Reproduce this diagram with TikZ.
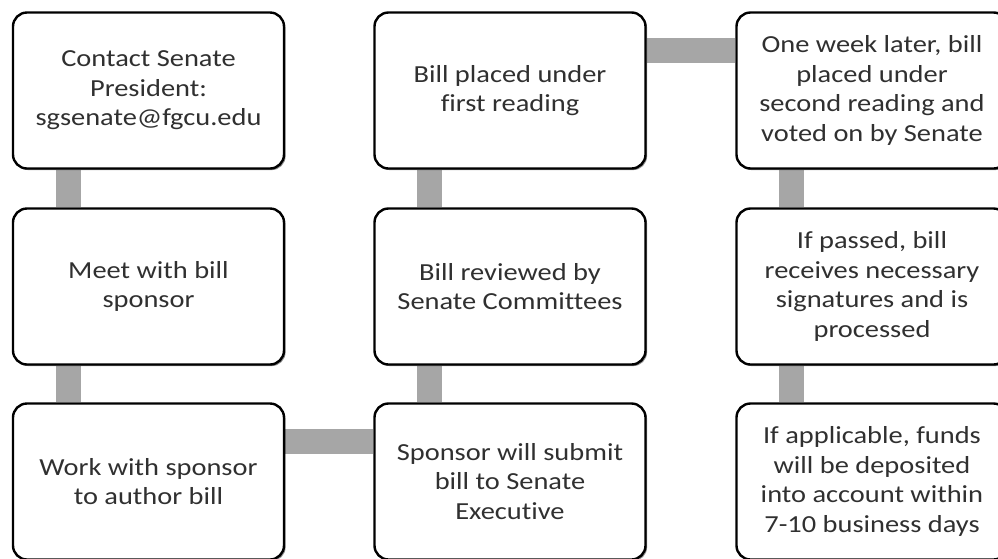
\documentclass[tikz,border=0pt]{standalone}
\usepackage{fontspec}
\setmainfont{Carlito}[FakeStretch=1.16,Ligatures=NoCommon]
\usepackage{tikz}
\usetikzlibrary{shadows,backgrounds}
\definecolor{Ink}{HTML}{303030}
\definecolor{Bar}{HTML}{A6A6A6}

\begin{document}
\begin{tikzpicture}[x=1pt,y=-1pt,
  card/.style={draw=black,line width=2.4pt,rounded corners=14pt,fill=white,
    minimum width=271pt,minimum height=156pt,inner sep=0pt,align=center,
    text=Ink,font=\fontsize{24.5}{29.5}\selectfont,
    drop shadow={shadow xshift=1.6pt,shadow yshift=-1.6pt,fill=black,opacity=0.45}},
  bar/.style={Bar,line width=25pt}]
\useasboundingbox (0,0) rectangle (998,558);
\clip (0,0) rectangle (998,558);
% first column
\node[card] (contact) at (148.5,90.5) {Contact Senate\\President:\\sgsenate@fgcu.edu};
\node[card] (meet) at (148.5,286.5) {Meet with bill\\sponsor};
\node[card] (author) at (148.5,481.5) {Work with sponsor\\to author bill};
% second column
\node[card] (first) at (510,90.5) {Bill placed under\\first reading};
\node[card] (review) at (510,286.5) {Bill reviewed by\\Senate Committees};
\node[card] (submit) at (510,481.5) {Sponsor will submit\\bill to Senate\\Executive};
% third column
\node[card] (second) at (872,90.5) {One week later, bill\\placed under\\second reading and\\voted on by Senate};
\node[card] (passed) at (872,286.5) {If passed, bill\\receives necessary\\signatures and is\\processed};
\node[card] (funds) at (872,481.5) {If applicable, funds\\will be deposited\\into account within\\7-10 business days};
% gray links behind the cards
\begin{scope}[on background layer]
\draw[bar] ([xshift=56.5pt]contact.south west) -- ([xshift=56.5pt]meet.north west);
\draw[bar] ([xshift=56.5pt]meet.south west) -- ([xshift=56.5pt]author.north west);
\draw[bar] ([yshift=-39pt]author.north east) -- ([yshift=-39pt]submit.north west);
\draw[bar] ([xshift=56.5pt]submit.north west) -- ([xshift=56.5pt]review.south west);
\draw[bar] ([xshift=56.5pt]review.north west) -- ([xshift=56.5pt]first.south west);
\draw[bar] ([yshift=-39.5pt]first.north east) -- ([yshift=-39.5pt]second.north west);
\draw[bar] ([xshift=56.5pt]second.south west) -- ([xshift=56.5pt]passed.north west);
\draw[bar] ([xshift=56.5pt]passed.south west) -- ([xshift=56.5pt]funds.north west);
\end{scope}
\end{tikzpicture}
\end{document}
